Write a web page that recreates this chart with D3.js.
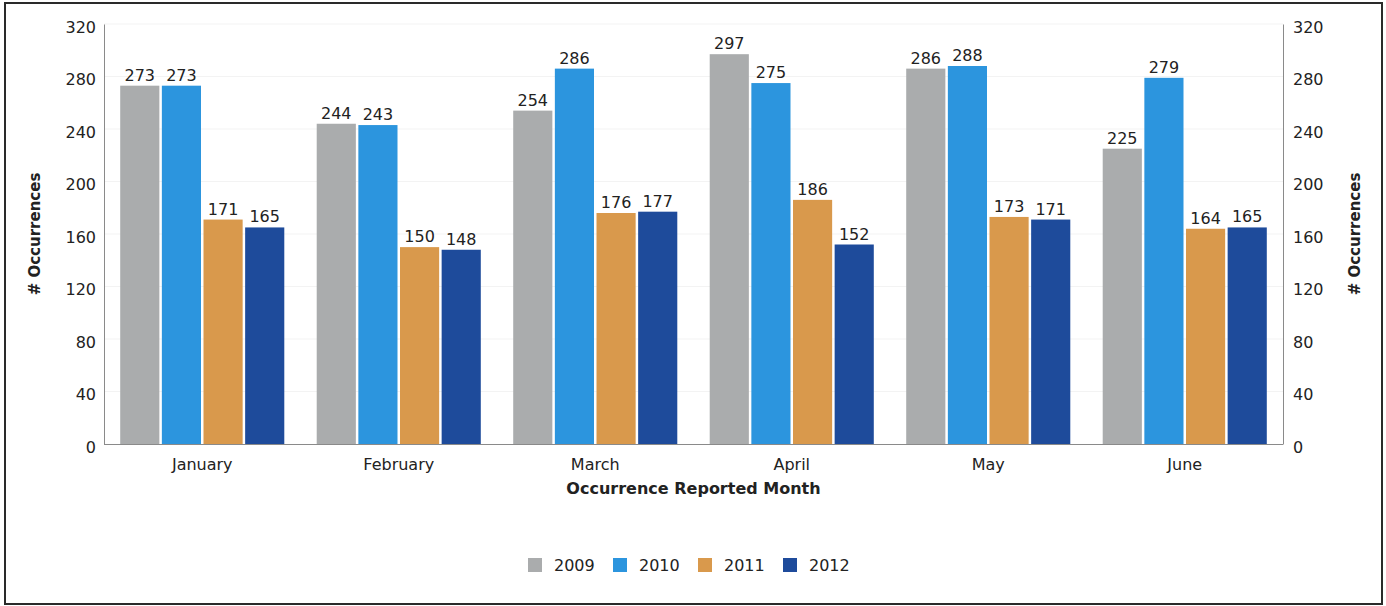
<!DOCTYPE html>
<html>
<head>
<meta charset="utf-8">
<script src="https://cdn.jsdelivr.net/npm/d3@7"></script>
<style>
  html, body { margin: 0; padding: 0; background: #fff; }
  svg { display: block; font-family: "DejaVu Sans", Verdana, sans-serif; }
</style>
</head>
<body>
<svg id="chart" width="1386" height="606"></svg>
<script>
const months = ["January", "February", "March", "April", "May", "June"];
const years = ["2009", "2010", "2011", "2012"];
const values2009 = [273, 244, 254, 297, 286, 225];
const values2010 = [273, 243, 286, 275, 288, 279];
const values2011 = [171, 150, 176, 186, 173, 164];
const values2012 = [165, 148, 177, 152, 171, 165];
const yTicks = [0, 40, 80, 120, 160, 200, 240, 280, 320];
const colors = ["#aaacad", "#2c95de", "#d9994c", "#1e4b9b"];
const xTitle = "Occurrence Reported Month";
const yTitle = "# Occurrences";

(function () {
const series = [values2009, values2010, values2011, values2012];
const data = months.map((m, i) => ({ month: m, vals: years.map((yr, j) => ({ year: yr, value: series[j][i], color: colors[j] })) }));

const svg = d3.select("#chart");
const pLeft = 104, pRight = 1283, pTop = 24, pBottom = 444;

// outer border
svg.append("rect").attr("x", 5).attr("y", 3).attr("width", 1377).attr("height", 601)
  .attr("fill", "none").attr("stroke", "#2a2a2a").attr("stroke-width", 2);

const x0 = d3.scaleBand().domain(months).range([pLeft, pRight]).paddingInner(0.165).paddingOuter(0.0825);
const x1 = d3.scaleBand().domain(years).range([0, x0.bandwidth()]).paddingInner(0.06);
const y = d3.scaleLinear().domain([0, 320]).range([pBottom, pTop]);

// faint gridlines
svg.append("g").selectAll("line").data(yTicks.filter(t => t > 0)).join("line")
  .attr("x1", pLeft).attr("x2", pRight).attr("y1", d => y(d)).attr("y2", d => y(d))
  .attr("stroke", "#f3f3f3").attr("stroke-width", 1);

// bars
const groups = svg.append("g").selectAll("g").data(data).join("g")
  .attr("transform", d => `translate(${x0(d.month)},0)`);
groups.selectAll("rect").data(d => d.vals).join("rect")
  .attr("x", d => x1(d.year)).attr("width", x1.bandwidth())
  .attr("y", d => y(d.value)).attr("height", d => y(0) - y(d.value))
  .attr("fill", d => d.color);
groups.selectAll("text").data(d => d.vals).join("text")
  .attr("x", d => x1(d.year) + x1.bandwidth() / 2).attr("y", d => y(d.value) - 5)
  .attr("text-anchor", "middle").attr("font-size", 16).attr("fill", "#222")
  .text(d => d.value);

// axes
const axisStyle = g => {
  g.select(".domain").attr("stroke", "#8a8a8a");
  g.selectAll(".tick line").remove();
  g.selectAll(".tick text").attr("font-size", 16).attr("fill", "#222").attr("font-family", "DejaVu Sans, sans-serif");
};
svg.append("g").attr("transform", `translate(${pLeft},0)`)
  .call(d3.axisLeft(y).tickValues(yTicks).tickSize(0).tickPadding(8).tickSizeOuter(0))
  .call(axisStyle)
  .call(g => g.selectAll(".tick text").attr("dy", "0.5em"));
svg.append("g").attr("transform", `translate(${pRight},0)`)
  .call(d3.axisRight(y).tickValues(yTicks).tickSize(0).tickPadding(10).tickSizeOuter(0))
  .call(axisStyle)
  .call(g => g.selectAll(".tick text").attr("dy", "0.5em"));
svg.append("g").attr("transform", `translate(0,${pBottom})`)
  .call(d3.axisBottom(x0).tickSize(0).tickPadding(15).tickSizeOuter(0))
  .call(axisStyle)
  .call(g => g.select(".domain").attr("d", `M${pLeft},0.5H${pRight}`));

// axis titles
svg.append("text").attr("x", (pLeft + pRight) / 2).attr("y", 494)
  .attr("text-anchor", "middle").attr("font-size", 16).attr("font-weight", "bold").attr("fill", "#222")
  .text(xTitle);
svg.append("text").attr("transform", `translate(40,${(pTop + pBottom) / 2}) rotate(-90)`)
  .attr("text-anchor", "middle").attr("font-size", 15).attr("font-weight", "bold").attr("fill", "#222")
  .text(yTitle);
svg.append("text").attr("transform", `translate(1360,${(pTop + pBottom) / 2}) rotate(-90)`)
  .attr("text-anchor", "middle").attr("font-size", 15).attr("font-weight", "bold").attr("fill", "#222")
  .text(yTitle);

// legend
const legend = svg.append("g").selectAll("g").data(years).join("g")
  .attr("transform", (d, i) => `translate(${528 + i * 85},558)`);
legend.append("rect").attr("width", 14).attr("height", 14).attr("fill", (d, i) => colors[i]);
legend.append("text").attr("x", 26).attr("y", 7).attr("dy", "0.35em")
  .attr("font-size", 16).attr("fill", "#222").text(d => d);
})();
</script>
</body>
</html>
